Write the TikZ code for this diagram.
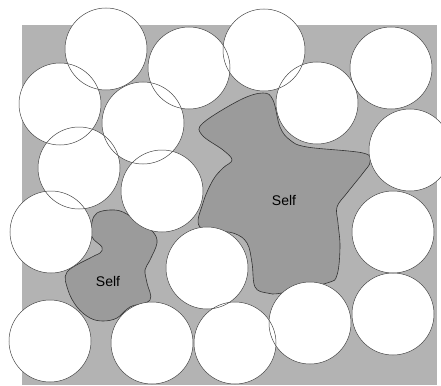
\documentclass[tikz,border=0pt]{standalone}
\usepackage{fontspec}
\setmainfont{Liberation Sans}
\definecolor{FieldGray}{RGB}{179,179,179}
\definecolor{SelfGray}{RGB}{155,155,155}
\definecolor{RimGray}{RGB}{70,70,70}
\usetikzlibrary{positioning}

\begin{document}
\begin{tikzpicture}[x=1pt, y=-1pt,
      every node/.style={font=\fontsize{14}{16}\selectfont, inner sep=0pt},
      field/.style={fill=FieldGray},
      selfblob/.style={fill=SelfGray, draw=black!80, line width=0.6pt},
      cellfill/.style={fill=white},
      cellrim/.style={draw=RimGray, line width=0.5pt}
  ]
    \useasboundingbox (0,0) rectangle (441,385);
    \fill[field] (22,25) rectangle (437,385);
    % self regions
    \path[selfblob] plot[smooth cycle, tension=0.6] coordinates {
      (263,93) (240,100) (203,123) (202,135) (223,150) (232,160) (223,168)
      (213,180) (203,203) (200,227) (233,233) (247,243) (252,263) (255,287)
      (267,293) (282,293) (327,283) (337,275) (340,247) (338,223) (337,207)
      (347,193) (363,173) (370,162) (363,153) (307,147) (290,140) (280,127)
      (273,100)};
    \path[selfblob] plot[smooth cycle, tension=0.6] coordinates {
      (110,210) (97,213) (92,222) (92,237) (102,247) (100,253) (92,257)
      (67,272) (68,290) (77,307) (90,318) (103,321) (117,318) (130,307)
      (150,300) (147,283) (145,270) (150,260) (157,243) (153,232) (140,223)
      (123,212)};
    \node (self1) at (284,200) {Self};
    \node (self2) at (108,281) {Self};
    % cells
    \foreach \x/\y in {106/49, 189/68, 264/50, 391/68, 317/103, 60/104,
        143/123, 79/168, 410/150, 162/191, 51/232, 393/232, 207/268,
        393/314, 310/323, 50/341, 152/343, 235/343}
      \fill[cellfill] (\x,\y) circle (41);
    \foreach \x/\y in {106/49, 189/68, 264/50, 391/68, 317/103, 60/104,
        143/123, 79/168, 410/150, 162/191, 51/232, 393/232, 207/268,
        393/314, 310/323, 50/341, 152/343, 235/343}
      \draw[cellrim] (\x,\y) circle (41);
\end{tikzpicture}
\end{document}
